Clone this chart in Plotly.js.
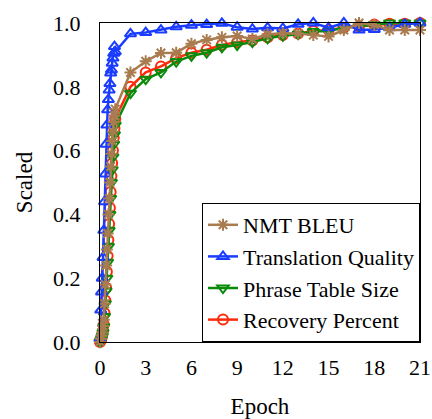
<!DOCTYPE html>
<html>
<head>
<meta charset="utf-8">
<script src="https://cdn.plot.ly/plotly-3.0.1.min.js"></script>
<style>html,body{margin:0;padding:0;background:#fff;}#chart{width:432px;height:419px;}</style>
</head>
<body>
<div id="chart"></div>
<script>
// Epochs: fractional checkpoints during the first epoch, then whole epochs
const epochs = [0,0.05,0.1,0.15,0.2,0.25,0.3,0.35,0.4,0.45,0.5,0.55,0.6,0.65,0.7,0.75,0.8,0.85,0.9,0.95,1.0,
  2,3,4,5,6,7,8,9,10,11,12,13,14,15,16,17,18,19,20,21];

const nmtBleu = [0.0,0.01,0.02,0.03,0.05,0.07,0.12,0.18,0.24,0.29,0.34,0.40,0.45,0.50,0.55,0.59,0.63,0.66,0.69,0.71,0.73,
  0.845,0.88,0.906,0.907,0.935,0.947,0.955,0.959,0.95,0.965,0.968,0.967,0.962,0.958,0.978,1.0,0.994,0.978,0.978,0.978];

const translationQuality = [0.01,0.10,0.157,0.20,0.265,0.35,0.44,0.527,0.62,0.68,0.728,0.76,0.79,0.81,0.843,0.853,0.874,0.89,0.905,0.926,0.91,
  0.966,0.970,0.978,0.988,0.993,0.995,0.999,0.987,0.981,0.985,0.983,0.996,1.0,0.985,1.0,0.978,0.98,0.985,0.996,1.0];

const phraseTableSize = [0,0.004,0.01,0.018,0.03,0.048,0.08,0.12,0.16,0.2,0.25,0.30,0.35,0.40,0.45,0.50,0.54,0.58,0.62,0.65,0.68,
  0.78,0.824,0.845,0.879,0.897,0.907,0.924,0.931,0.94,0.952,0.96,0.965,0.973,0.975,0.985,0.99,0.995,1.0,1.0,1.0];

const recoveryPercent = [0,0.005,0.012,0.022,0.035,0.055,0.09,0.13,0.17,0.22,0.27,0.32,0.37,0.42,0.47,0.52,0.56,0.60,0.64,0.67,0.70,
  0.80,0.845,0.864,0.89,0.907,0.916,0.931,0.94,0.945,0.955,0.962,0.967,0.975,0.978,0.985,0.99,0.995,0.998,0.998,1.0];

const xTicks = [0,3,6,9,12,15,18,21];
const yTicks = [0,0.2,0.4,0.6,0.8,1.0];

const FONT = "Liberation Serif, Times New Roman, serif";

function tr(name, y, color, symbol, rank) {
  return {
    type: 'scatter', mode: 'lines+markers', name: name,
    x: epochs, y: y, cliponaxis: false, legendrank: rank,
    line: {color: color, width: 2.5},
    marker: {symbol: symbol, size: 10, color: color, line: {color: color, width: 2}}
  };
}

const data = [
  tr('Recovery Percent', recoveryPercent, '#ff2a0a', 'circle-open', 4),
  tr('Phrase Table Size', phraseTableSize, '#0a8a0a', 'triangle-down-open', 3),
  tr('Translation Quality', translationQuality, '#1a3cff', 'triangle-up-open', 2),
  tr('NMT BLEU', nmtBleu, '#a97c50', 'asterisk-open', 1)
];

const layout = {
  width: 432, height: 419,
  margin: {l: 100, r: 12, t: 23, b: 77},
  paper_bgcolor: '#fff', plot_bgcolor: '#fff',
  font: {family: FONT, size: 22, color: '#000'},
  showlegend: true,
  legend: {
    x: 1, y: 0, xanchor: 'right', yanchor: 'bottom',
    bgcolor: '#fff', bordercolor: '#000', borderwidth: 1,
    font: {family: FONT, size: 22, color: '#000'},
    traceorder: 'normal', tracegroupgap: 0, itemwidth: 30
  },
  xaxis: {
    range: [0, 21], tickmode: 'array', tickvals: xTicks, ticktext: xTicks.map(String),
    showgrid: false, zeroline: false, showline: true, linecolor: '#000', linewidth: 1, mirror: true,
    ticks: '', tickfont: {family: FONT, size: 22}, ticklabelstandoff: 6,
    title: {text: 'Epoch', font: {family: FONT, size: 23}, standoff: 22}
  },
  yaxis: {
    range: [0, 1], tickmode: 'array', tickvals: yTicks, ticktext: yTicks.map(v => v.toFixed(1)),
    showgrid: false, zeroline: false, showline: true, linecolor: '#000', linewidth: 1, mirror: true,
    ticks: '', tickfont: {family: FONT, size: 22}, ticklabelstandoff: 14,
    title: {text: 'Scaled', font: {family: FONT, size: 23}, standoff: 14}
  }
};

Plotly.newPlot('chart', data, layout, {displayModeBar: false, staticPlot: true});
</script>
</body>
</html>
